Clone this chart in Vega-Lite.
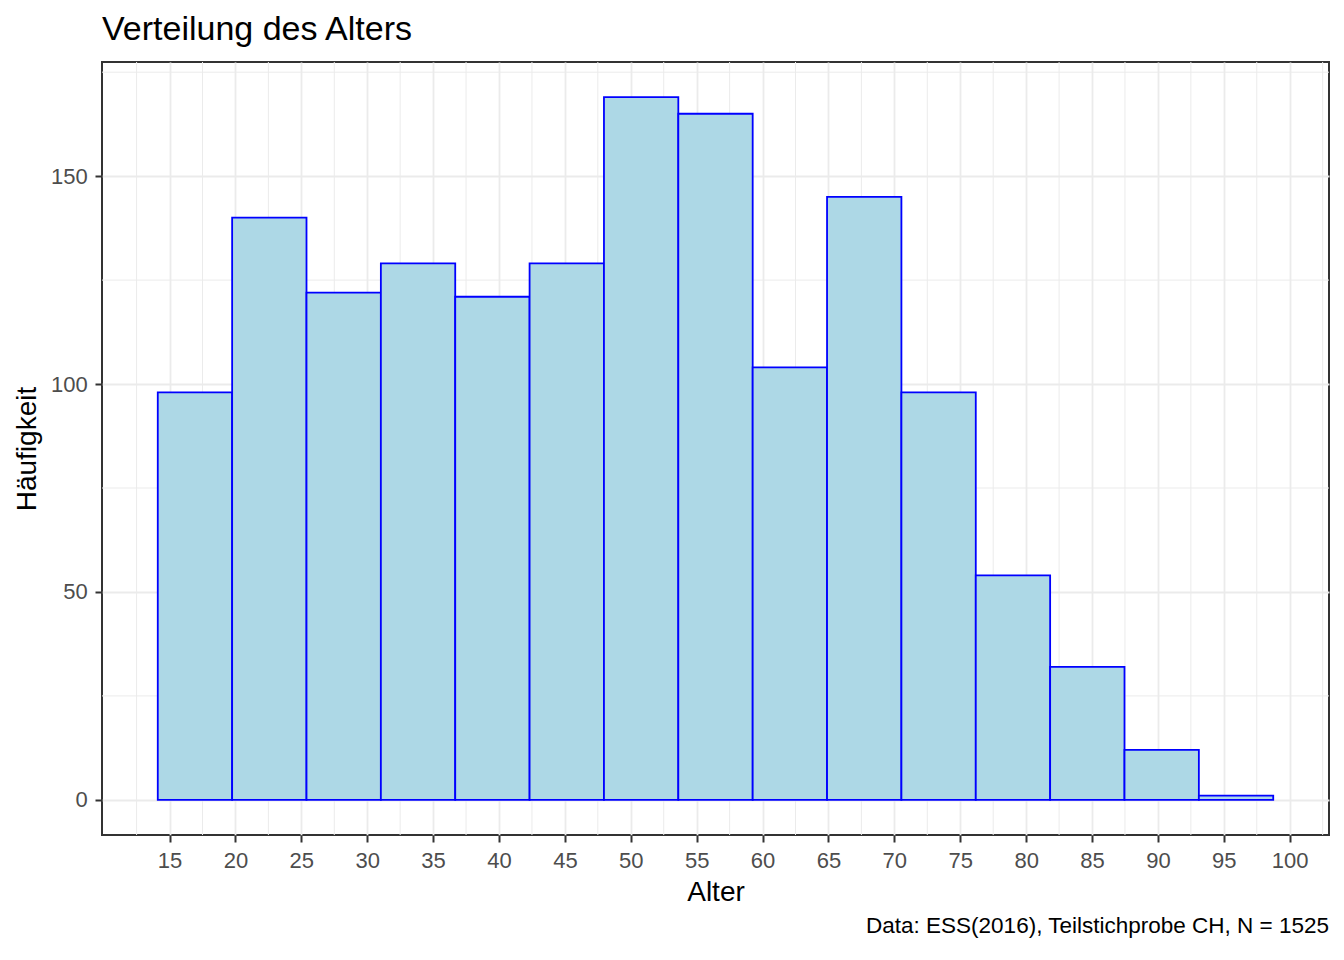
{
  "$schema": "https://vega.github.io/schema/vega-lite/v6.json",
  "autosize": {"type": "none"},
  "padding": {"left": 102, "top": 62, "right": 15, "bottom": 125},
  "background": "white",
  "width": 1227,
  "height": 773,
  "config": {
    "font": "Liberation Sans",
    "view": {"stroke": "#333333", "strokeWidth": 2},
    "axis": {
      "domain": false,
      "grid": true, "gridColor": "#EBEBEB", "gridWidth": 1.8,
      "ticks": true, "tickColor": "#333333", "tickWidth": 2, "tickSize": 7,
      "labelFontSize": 22, "labelColor": "#4D4D4D",
      "labelFlush": false, "labelOverlap": false,
      "titleFontSize": 28, "titleFontWeight": "normal", "titleColor": "#000000"
    },
    "axisX": {"labelPadding": 8, "titlePadding": 7.5},
    "axisY": {"labelPadding": 7.7, "titlePadding": 8.7}
  },
  "title": {
    "text": "Verteilung des Alters",
    "anchor": "start",
    "frame": "group",
    "fontSize": 34,
    "fontWeight": "normal",
    "color": "#000000",
    "offset": 15
  },
  "datasets": {
    "bins": [
      {"start": 14.1071, "end": 19.75, "count": 98},
      {"start": 19.75, "end": 25.3929, "count": 140},
      {"start": 25.3929, "end": 31.0357, "count": 122},
      {"start": 31.0357, "end": 36.6786, "count": 129},
      {"start": 36.6786, "end": 42.3214, "count": 121},
      {"start": 42.3214, "end": 47.9643, "count": 129},
      {"start": 47.9643, "end": 53.6071, "count": 169},
      {"start": 53.6071, "end": 59.25, "count": 165},
      {"start": 59.25, "end": 64.8929, "count": 104},
      {"start": 64.8929, "end": 70.5357, "count": 145},
      {"start": 70.5357, "end": 76.1786, "count": 98},
      {"start": 76.1786, "end": 81.8214, "count": 54},
      {"start": 81.8214, "end": 87.4643, "count": 32},
      {"start": 87.4643, "end": 93.1071, "count": 12},
      {"start": 93.1071, "end": 98.75, "count": 1}
    ],
    "minorx": [
      {"v": 12.5}, {"v": 17.5}, {"v": 22.5}, {"v": 27.5}, {"v": 32.5},
      {"v": 37.5}, {"v": 42.5}, {"v": 47.5}, {"v": 52.5}, {"v": 57.5},
      {"v": 62.5}, {"v": 67.5}, {"v": 72.5}, {"v": 77.5}, {"v": 82.5},
      {"v": 87.5}, {"v": 92.5}, {"v": 97.5}, {"v": 102.5}
    ],
    "minory": [
      {"v": 25}, {"v": 75}, {"v": 125}, {"v": 175}
    ],
    "caption": [
      {"label": "Data: ESS(2016), Teilstichprobe CH, N = 1525"}
    ]
  },
  "layer": [
    {
      "data": {"name": "minorx"},
      "mark": {"type": "rule", "stroke": "#EBEBEB", "strokeWidth": 1},
      "encoding": {
        "x": {"field": "v", "type": "quantitative", "title": "Alter",
              "axis": {"values": [15, 20, 25, 30, 35, 40, 45, 50, 55, 60, 65, 70, 75, 80, 85, 90, 95, 100]},
              "scale": {"domain": [9.875, 102.982], "nice": false, "zero": false}}
      }
    },
    {
      "data": {"name": "minory"},
      "mark": {"type": "rule", "stroke": "#EBEBEB", "strokeWidth": 1},
      "encoding": {
        "y": {"field": "v", "type": "quantitative", "title": "Häufigkeit",
              "axis": {"values": [0, 50, 100, 150]},
              "scale": {"domain": [-8.45, 177.45], "nice": false, "zero": false}}
      }
    },
    {
      "data": {"name": "bins"},
      "mark": {"type": "rect", "fill": "#ADD8E6", "stroke": "#0000FF", "strokeWidth": 1.8, "strokeJoin": "miter"},
      "encoding": {
        "x": {
          "field": "start", "type": "quantitative", "title": "Alter",
          "scale": {"domain": [9.875, 102.982], "nice": false, "zero": false},
          "axis": {"values": [15, 20, 25, 30, 35, 40, 45, 50, 55, 60, 65, 70, 75, 80, 85, 90, 95, 100]}
        },
        "x2": {"field": "end"},
        "y": {
          "field": "count", "type": "quantitative", "title": "Häufigkeit",
          "scale": {"domain": [-8.45, 177.45], "nice": false, "zero": false},
          "axis": {"values": [0, 50, 100, 150]}
        },
        "y2": {"datum": 0}
      }
    },
    {
      "data": {"name": "caption"},
      "mark": {"type": "text", "align": "right", "baseline": "alphabetic", "fontSize": 22.5, "color": "#000000"},
      "encoding": {
        "x": {"datum": 102.982, "title": "Alter"},
        "y": {"datum": -31.9, "title": "Häufigkeit"},
        "text": {"field": "label"}
      }
    }
  ]
}
